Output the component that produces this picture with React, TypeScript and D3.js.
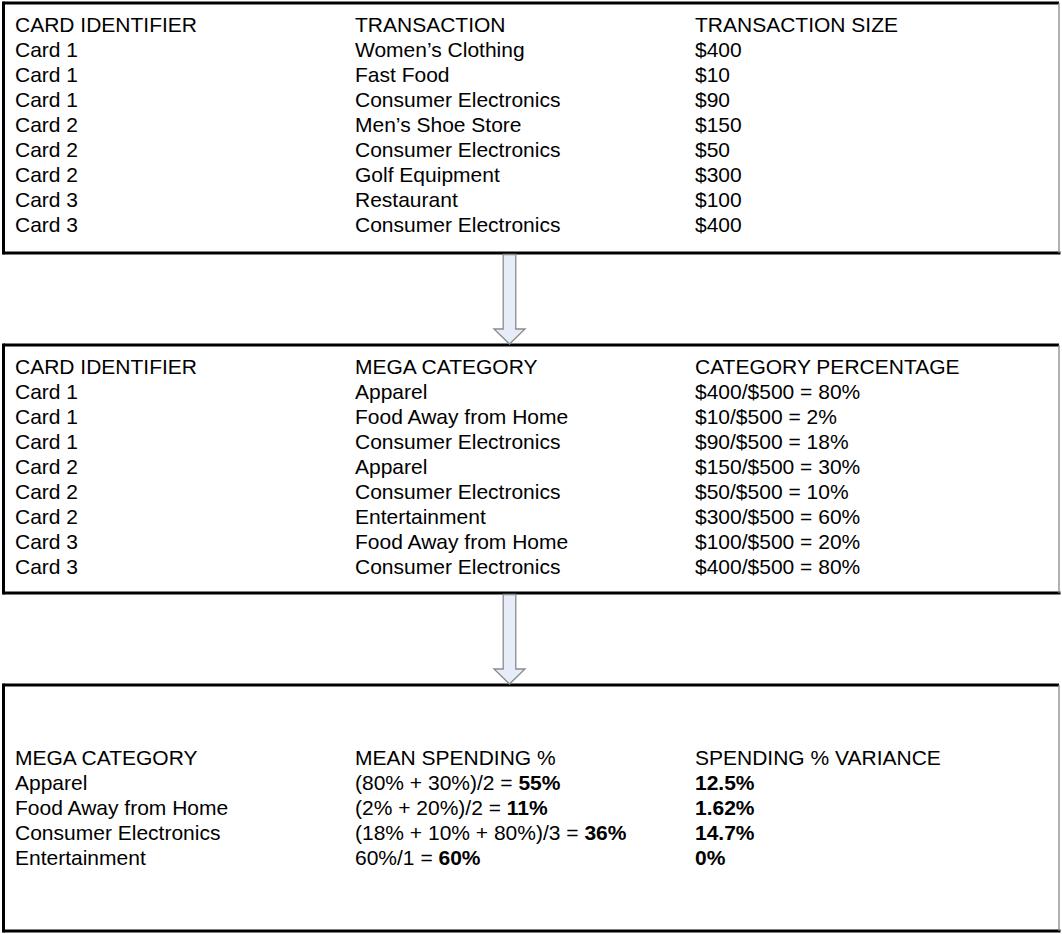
import * as React from 'react';
import * as d3 from 'd3';

// table 1: raw transactions
const cards1 = ['Card 1', 'Card 1', 'Card 1', 'Card 2', 'Card 2', 'Card 2', 'Card 3', 'Card 3'];
const transactions = ['Women\u2019s Clothing', 'Fast Food', 'Consumer Electronics', 'Men\u2019s Shoe Store',
    'Consumer Electronics', 'Golf Equipment', 'Restaurant', 'Consumer Electronics'];
const sizes = [400, 10, 90, 150, 50, 300, 100, 400];

// table 2: mega categories
const megaCats = ['Apparel', 'Food Away from Home', 'Consumer Electronics', 'Apparel',
    'Consumer Electronics', 'Entertainment', 'Food Away from Home', 'Consumer Electronics'];
const cardTotal = 500;

// table 3: summary
const summaryCats = ['Apparel', 'Food Away from Home', 'Consumer Electronics', 'Entertainment'];
const meanFormulas = ['(80% + 30%)/2 = ', '(2% + 20%)/2 = ', '(18% + 10% + 80%)/3 = ', '60%/1 = '];
const meanValues = ['55%', '11%', '36%', '60%'];
const variances = ['12.5%', '1.62%', '14.7%', '0%'];

const headers1 = ['CARD IDENTIFIER', 'TRANSACTION', 'TRANSACTION SIZE'];
const headers2 = ['CARD IDENTIFIER', 'MEGA CATEGORY', 'CATEGORY PERCENTAGE'];
const headers3 = ['MEGA CATEGORY', 'MEAN SPENDING %', 'SPENDING % VARIANCE'];

const W = 1062;
const H = 934;
const colX = [15, 355, 695];
const boxes = [
    {top: 3, bottom: 253},
    {top: 345, bottom: 593},
    {top: 685, bottom: 931},
];
const fontSize = 21;
const rowStep = 25;

function Box({top, bottom}: {top: number; bottom: number}) {
    const l = 3.5, r = 1059;
    return (
        <g>
            <rect x={l} y={top} width={r - l} height={bottom - top} fill="#fff" stroke="none"/>
            <line x1={l} x2={l} y1={top - 1.5} y2={bottom + 1.5} stroke="#000" strokeWidth={3}/>
            <line x1={l} x2={r} y1={top} y2={top} stroke="#000" strokeWidth={3}/>
            <line x1={l} x2={r + 1.5} y1={bottom} y2={bottom} stroke="#000" strokeWidth={3}/>
            <line x1={r} x2={r} y1={top} y2={bottom} stroke="#888" strokeWidth={1.3}/>
        </g>
    );
}

function Arrow({y0, y1}: {y0: number; y1: number}) {
    const cx = 509.5, sw = 6.3, hw = 15.5, hh = 15;
    const pts: [number, number][] = [
        [cx - sw, y0], [cx + sw, y0], [cx + sw, y1 - hh], [cx + hw, y1 - hh],
        [cx, y1], [cx - hw, y1 - hh], [cx - sw, y1 - hh],
    ];
    return <path d={d3.line()(pts) + 'Z'} fill="#e6edf8" stroke="#8a8a8a" strokeWidth={1.3}/>;
}

function Table({headers, cols, headerY}: {headers: string[]; cols: React.ReactNode[][]; headerY: number}) {
    const n = cols[0].length;
    const y = d3.scaleLinear().domain([0, 1]).range([headerY + rowStep, headerY + 2 * rowStep]);
    return (
        <g>
            {headers.map((h, i) => <text key={'h' + i} x={colX[i]} y={headerY}>{h}</text>)}
            {d3.range(n).map(r => cols.map((c, i) => (
                <text key={r + '-' + i} x={colX[i]} y={y(r)}>{c[r]}</text>
            )))}
        </g>
    );
}

export default function App() {
    const pct = sizes.map(s => `$${s}/$${cardTotal} = ${Math.round(s / cardTotal * 100)}%`);
    const meanCells = meanFormulas.map((f, i) => (
        <>{f}<tspan fontWeight="bold">{meanValues[i]}</tspan></>
    ));
    const varCells = variances.map(v => <tspan fontWeight="bold">{v}</tspan>);
    return (
        <svg width={W} height={H} viewBox={`0 0 ${W} ${H}`}
             style={{position: 'absolute', left: 0, top: 0, background: '#fff'}}
             fontFamily="'Liberation Sans', Arial, sans-serif" fontSize={fontSize} fill="#000">
            {boxes.map((b, i) => <Box key={i} top={b.top} bottom={b.bottom}/>)}
            <Arrow y0={boxes[0].bottom + 1.5} y1={boxes[1].top - 1}/>
            <Arrow y0={boxes[1].bottom + 1.5} y1={boxes[2].top - 1}/>
            <Table headers={headers1} headerY={32}
                   cols={[cards1, transactions, sizes.map(s => `$${s}`)]}/>
            <Table headers={headers2} headerY={374}
                   cols={[cards1, megaCats, pct]}/>
            <Table headers={headers3} headerY={765}
                   cols={[summaryCats, meanCells, varCells]}/>
        </svg>
    );
}
